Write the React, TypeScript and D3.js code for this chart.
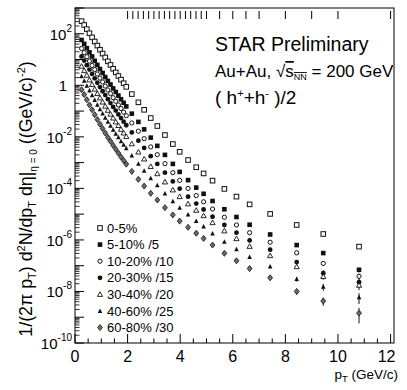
import React from 'react';
import * as d3 from 'd3';

const W = 407;
const H = 390;
const FONT = '"Liberation Sans", Arial, Helvetica, sans-serif';

// pT (GeV/c) of the points
const ptValues = [0.25, 0.35, 0.45, 0.55, 0.65, 0.75, 0.85, 0.95, 1.05, 1.15, 1.25, 1.35, 1.45, 1.55, 1.65, 1.75, 1.85, 1.95,
  2.16, 2.41, 2.63, 2.88, 3.13, 3.42, 3.72, 3.98, 4.30, 4.61, 4.89, 5.23, 5.68, 6.14, 6.64, 7.42, 8.43, 9.44, 10.8];

// yields, read as log10 off the log axis (already divided by the legend factor)
const c0_5 = [2.49, 2.34, 2.18, 2.02, 1.86, 1.70, 1.54, 1.38, 1.23, 1.08, 0.93, 0.79, 0.64, 0.50, 0.36, 0.22, 0.08, -0.06,
  -0.34, -0.66, -0.95, -1.27, -1.58, -1.93, -2.28, -2.58, -2.90, -3.18, -3.42, -3.70, -4.02, -4.32, -4.62, -4.99, -5.42, -5.77, -6.26];
const c5_10 = [1.76, 1.61, 1.44, 1.28, 1.12, 0.95, 0.79, 0.63, 0.48, 0.32, 0.17, 0.03, -0.12, -0.26, -0.40, -0.54, -0.68, -0.82,
  -1.10, -1.42, -1.71, -2.03, -2.35, -2.70, -3.05, -3.36, -3.68, -3.97, -4.21, -4.49, -4.81, -5.11, -5.41, -5.79, -6.20, -6.51, -7.16];
const c10_20 = [1.43, 1.27, 1.11, 0.94, 0.77, 0.61, 0.44, 0.28, 0.13, -0.03, -0.18, -0.32, -0.48, -0.62, -0.76, -0.90, -1.04, -1.18,
  -1.46, -1.78, -2.07, -2.39, -2.69, -3.04, -3.39, -3.69, -4.00, -4.28, -4.52, -4.80, -5.12, -5.42, -5.72, -6.09, -6.50, -6.91, -7.41];
const c20_30 = [1.12, 0.96, 0.78, 0.61, 0.44, 0.27, 0.10, -0.07, -0.23, -0.38, -0.54, -0.69, -0.84, -0.98, -1.13, -1.27, -1.41, -1.55,
  -1.83, -2.15, -2.43, -2.75, -3.05, -3.39, -3.73, -4.01, -4.32, -4.59, -4.82, -5.10, -5.42, -5.72, -6.02, -6.38, -6.86, -7.29, -7.64];
const c30_40 = [0.74, 0.57, 0.39, 0.21, 0.03, -0.15, -0.32, -0.49, -0.65, -0.81, -0.97, -1.12, -1.27, -1.42, -1.56, -1.71, -1.85, -1.99,
  -2.27, -2.59, -2.86, -3.15, -3.43, -3.75, -4.06, -4.32, -4.60, -4.85, -5.06, -5.33, -5.65, -5.95, -6.25, -6.61, -7.04, -7.42, -7.76];
const c40_60 = [0.35, 0.17, -0.02, -0.21, -0.39, -0.57, -0.76, -0.93, -1.10, -1.26, -1.42, -1.57, -1.73, -1.88, -2.02, -2.17, -2.31, -2.45,
  -2.73, -3.05, -3.32, -3.61, -3.88, -4.20, -4.50, -4.76, -5.02, -5.27, -5.48, -5.75, -6.07, -6.37, -6.67, -7.04, -7.52, -7.82, -8.23];
const c60_80 = [-0.17, -0.36, -0.56, -0.76, -0.95, -1.14, -1.33, -1.51, -1.68, -1.85, -2.02, -2.17, -2.33, -2.48, -2.63, -2.78, -2.92, -3.06,
  -3.34, -3.65, -3.91, -4.19, -4.45, -4.75, -5.03, -5.27, -5.51, -5.74, -5.94, -6.20, -6.52, -6.81, -7.11, -7.47, -8.00, -8.37, -8.84];

// relative errors of the last four points of each class
const lastErrors = [
  [0.05, 0.08, 0.12, 0.15],
  [0.06, 0.1, 0.15, 0.2],
  [0.07, 0.12, 0.18, 0.25],
  [0.08, 0.14, 0.3, 0.35],
  [0.1, 0.15, 0.25, 0.35],
  [0.12, 0.2, 0.3, 0.45],
  [0.15, 0.25, 0.35, 0.6],
];

const legendLabels = ['0-5%', '5-10% /5', '10-20% /10', '20-30% /15', '30-40% /20', '40-60% /25', '60-80% /30'];
const markerKinds = ['openSquare', 'filledSquare', 'openCircle', 'filledCircle', 'openTriangle', 'filledTriangle', 'diamond'];
const allSeries = [c0_5, c5_10, c10_20, c20_30, c30_40, c40_60, c60_80];

// pT bin edges marked along the top of the frame
const binEdges = [2.0, 2.2, 2.4, 2.6, 2.8, 3.0, 3.2, 3.4, 3.6, 3.8, 4.0, 4.2, 4.4, 4.6, 4.8, 5.0, 5.5, 6.0, 6.5, 7.0, 8.0, 9.0, 10.0, 12.0];
const xTickLabels = [0, 2, 4, 6, 8, 10, 12];
const yTickExps = [2, 0, -2, -4, -6, -8, -10];

const Marker = ({ kind, cx, cy }: { kind: string; cx: number; cy: number }) => {
  const s = 2.3;
  switch (kind) {
    case 'openSquare':
      return <rect x={cx - s} y={cy - s} width={2 * s} height={2 * s} fill="#fff" stroke="#111" strokeWidth={1} />;
    case 'filledSquare':
      return <rect x={cx - s} y={cy - s} width={2 * s} height={2 * s} fill="#111" />;
    case 'openCircle':
      return <circle cx={cx} cy={cy} r={2.1} fill="#fff" stroke="#111" strokeWidth={1} />;
    case 'filledCircle':
      return <circle cx={cx} cy={cy} r={2.4} fill="#111" />;
    case 'openTriangle':
      return <path d={`M${cx},${cy - 2.6}L${cx + 2.6},${cy + 2}L${cx - 2.6},${cy + 2}Z`} fill="#fff" stroke="#111" strokeWidth={0.9} />;
    case 'filledTriangle':
      return <path d={`M${cx},${cy - 2.6}L${cx + 2.3},${cy + 1.9}L${cx - 2.3},${cy + 1.9}Z`} fill="#111" />;
    default:
      return <path d={`M${cx},${cy - 3}L${cx + 2.4},${cy}L${cx},${cy + 3}L${cx - 2.4},${cy}Z`} fill="#6a6a6a" stroke="#222" strokeWidth={0.9} />;
  }
};

const App = () => {
  const x = d3.scaleLinear().domain([0, 12.13]).range([75, 394]);
  const y = d3.scaleLog().domain([1e-10, 1e3]).range([343, 8]);
  const [x0, x1] = x.range();
  const [yb, yt] = y.range();

  const minorX = d3.range(0, 12.01, 0.5).filter(v => v % 2 !== 0);
  const decades = d3.range(-10, 3);
  const minorY: number[] = [];
  decades.forEach(d => {
    for (let k = 2; k <= 9; k++) minorY.push(k * Math.pow(10, d));
  });

  return (
    <svg width={W} height={H} style={{ position: 'absolute', left: 0, top: 0, background: '#fff' }} fontFamily={FONT}>
      <rect x={0} y={0} width={W} height={H} fill="#fff" />

      {/* frame */}
      <rect x={x0} y={yt} width={x1 - x0} height={yb - yt} fill="none" stroke="#000" strokeWidth={1} />

      {/* bottom ticks */}
      {xTickLabels.map(v => (
        <line key={'xm' + v} x1={x(v)} x2={x(v)} y1={yb} y2={yb - 9} stroke="#000" />
      ))}
      {minorX.map(v => (
        <line key={'xn' + v} x1={x(v)} x2={x(v)} y1={yb} y2={yb - 4.5} stroke="#000" />
      ))}
      {xTickLabels.map(v => (
        <text key={'xl' + v} x={x(v) - (v === 12 ? 4 : 0)} y={362} fontSize={16} textAnchor="middle">{v}</text>
      ))}

      {/* top bin-edge marks */}
      {binEdges.map(v => (
        <line key={'be' + v} x1={x(v)} x2={x(v)} y1={11} y2={19} stroke="#000" />
      ))}

      {/* left ticks */}
      {decades.concat([3]).map(d => (
        <line key={'ym' + d} x1={x0} x2={x0 + 9} y1={y(Math.pow(10, d))} y2={y(Math.pow(10, d))} stroke="#000" />
      ))}
      {minorY.map((v, i) => (
        <line key={'yn' + i} x1={x0} x2={x0 + 4.5} y1={y(v)} y2={y(v)} stroke="#000" strokeWidth={0.8} />
      ))}
      {yTickExps.map(e => (
        e === 0 ? (
          <text key={'yl' + e} x={67} y={y(1) + 6} fontSize={15} textAnchor="end">1</text>
        ) : (
          <text key={'yl' + e} x={72} y={y(Math.pow(10, e)) + 6} fontSize={15} textAnchor="end">
            10<tspan dy={-8} fontSize={10}>{e}</tspan>
          </text>
        )
      ))}

      {/* data */}
      {allSeries.map((vals, si) => (
        <g key={'s' + si}>
          {vals.map((v, i) => {
            const val = Math.pow(10, v);
            const k = i - (vals.length - 4);
            const err = k >= 0 ? lastErrors[si][k] * val : 0;
            return (
              <g key={i}>
                {err > 0 && (
                  <line x1={x(ptValues[i])} x2={x(ptValues[i])} y1={y(val + err)} y2={y(val - err)} stroke="#111" strokeWidth={1} />
                )}
                <Marker kind={markerKinds[si]} cx={x(ptValues[i])} cy={y(val)} />
              </g>
            );
          })}
        </g>
      ))}

      {/* legend */}
      {legendLabels.map((lab, i) => {
        const ly = 228 + i * 16.6;
        return (
          <g key={'lg' + i}>
            <Marker kind={markerKinds[i]} cx={100} cy={ly} />
            <text x={107} y={ly} dy="0.36em" fontSize={13}>{lab}</text>
          </g>
        );
      })}

      {/* annotations */}
      <text x={215} y={51} fontSize={19.5}>STAR Preliminary</text>
      <text x={215} y={77} fontSize={17}>
        Au+Au, <tspan>√</tspan><tspan textDecoration="overline">s<tspan dy={3} fontSize={9}>NN</tspan></tspan><tspan dy={-3}> = 200 GeV</tspan>
      </text>
      <text x={215} y={104} fontSize={19}>
        ( h<tspan dy={-7} fontSize={11}>+</tspan><tspan dy={7}>+h</tspan><tspan dy={-7} fontSize={11}>-</tspan><tspan dy={7}> )/2</tspan>
      </text>

      {/* axis titles */}
      <text x={398} y={379} fontSize={13.5} textAnchor="end">
        p<tspan dy={3} fontSize={9.5}>T</tspan><tspan dy={-3}> (GeV/c)</tspan>
      </text>
      <text transform="translate(32,199) rotate(-90)" fontSize={17.8} textAnchor="middle">
        1/(2π p<tspan dy={4} fontSize={11}>T</tspan><tspan dy={-4}>)  d</tspan><tspan dy={-7} fontSize={11}>2</tspan><tspan dy={7}>N/dp</tspan><tspan dy={4} fontSize={11}>T</tspan><tspan dy={-4}> dη|</tspan><tspan dy={5} fontSize={10}>η = 0</tspan><tspan dy={-5}>  ((GeV/c)</tspan><tspan dy={-7} fontSize={11}>-2</tspan><tspan dy={7}>)</tspan>
      </text>
    </svg>
  );
};

export default App;
